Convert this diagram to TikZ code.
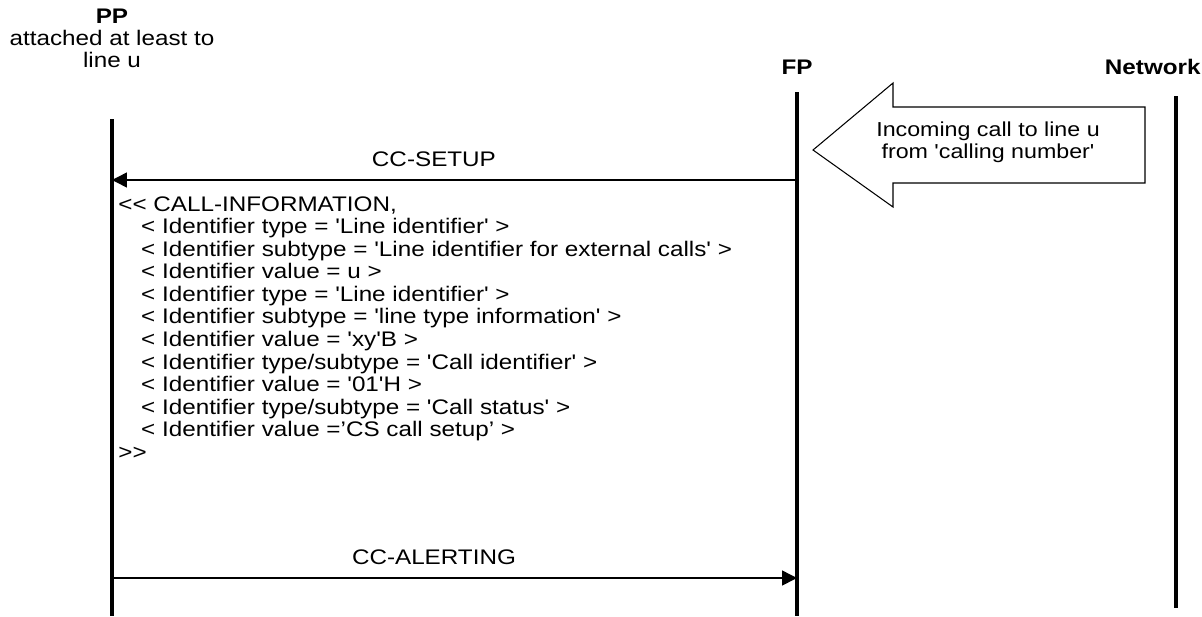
\documentclass[tikz,border=0pt]{standalone}
\usepackage{fontspec}
\setmainfont{Liberation Sans}[FakeStretch=1.15,Ligatures=TeXOff]
\usetikzlibrary{arrows.meta,positioning}

\newcommand{\ind}{\hspace*{13pt}}

\begin{document}
\begin{tikzpicture}[
  x=0.02cm,
  y=-0.02cm,
  >={Triangle[length=8.5pt,width=8.5pt]},
  lifeline/.style={line width=1.8pt},
  msg/.style={->,line width=0.85pt},
  entity/.style={align=center,inner sep=0pt,font=\fontsize{12}{12.6}\selectfont},
  msglabel/.style={font=\fontsize{12}{12.6}\selectfont,above=4pt},
  params/.style={align=left,inner sep=0pt,anchor=north west,
    font=\fontsize{12}{12.85}\selectfont},
  bigarrow/.style={draw,line width=0.6pt,fill=white,line join=miter}
]
\useasboundingbox (0,0) rectangle (1202,616);

% entities
\node[entity] (pp) at (112,38) {\textbf{PP}\\attached at least to\\line u};
\node[entity] (fp) at (797,67) {\textbf{FP}};
\node[entity,anchor=east] (net) at (1201,67) {\textbf{Network}};

% lifelines
\coordinate (pptop) at (112,119);
\coordinate (ppbot) at (112,616);
\coordinate (fptop) at (797,92);
\coordinate (fpbot) at (797,616);
\coordinate (nettop) at (1176,96);
\coordinate (netbot) at (1176,608);
\draw[lifeline] (pptop) -- (ppbot);
\draw[lifeline] (fptop) -- (fpbot);
\draw[lifeline] (nettop) -- (netbot);

% incoming call from the network
\draw[bigarrow] (813,150) -- (893,83) -- (893,107) -- (1145,107)
  -- (1145,183) -- (893,183) -- (893,207) -- cycle;
\node[entity,font=\fontsize{11.5}{12.6}\selectfont] (incoming) at (988,142)
  {Incoming call to line u\\from 'calling number'};

% messages
\coordinate (fpsetup) at (797,180);
\coordinate (ppsetup) at (112,180);
\draw[msg] (fpsetup) -- node[msglabel,pos=.53]{CC-SETUP} (ppsetup);

\node[params] (info) at (118,196)
  {<< CALL-INFORMATION,\\
   \ind< Identifier type = 'Line identifier' >\\
   \ind< Identifier subtype = 'Line identifier for external calls' >\\
   \ind< Identifier value = u >\\
   \ind< Identifier type = 'Line identifier' >\\
   \ind< Identifier subtype = 'line type information' >\\
   \ind< Identifier value = 'xy'B >\\
   \ind< Identifier type/subtype = 'Call identifier' >\\
   \ind< Identifier value = '01'H >\\
   \ind< Identifier type/subtype = 'Call status' >\\
   \ind< Identifier value =’CS call setup’ >\\
   >>};

\coordinate (ppalert) at (112,578);
\coordinate (fpalert) at (797,578);
\draw[msg] (ppalert) -- node[msglabel,pos=.47]{CC-ALERTING} (fpalert);

\end{tikzpicture}
\end{document}
